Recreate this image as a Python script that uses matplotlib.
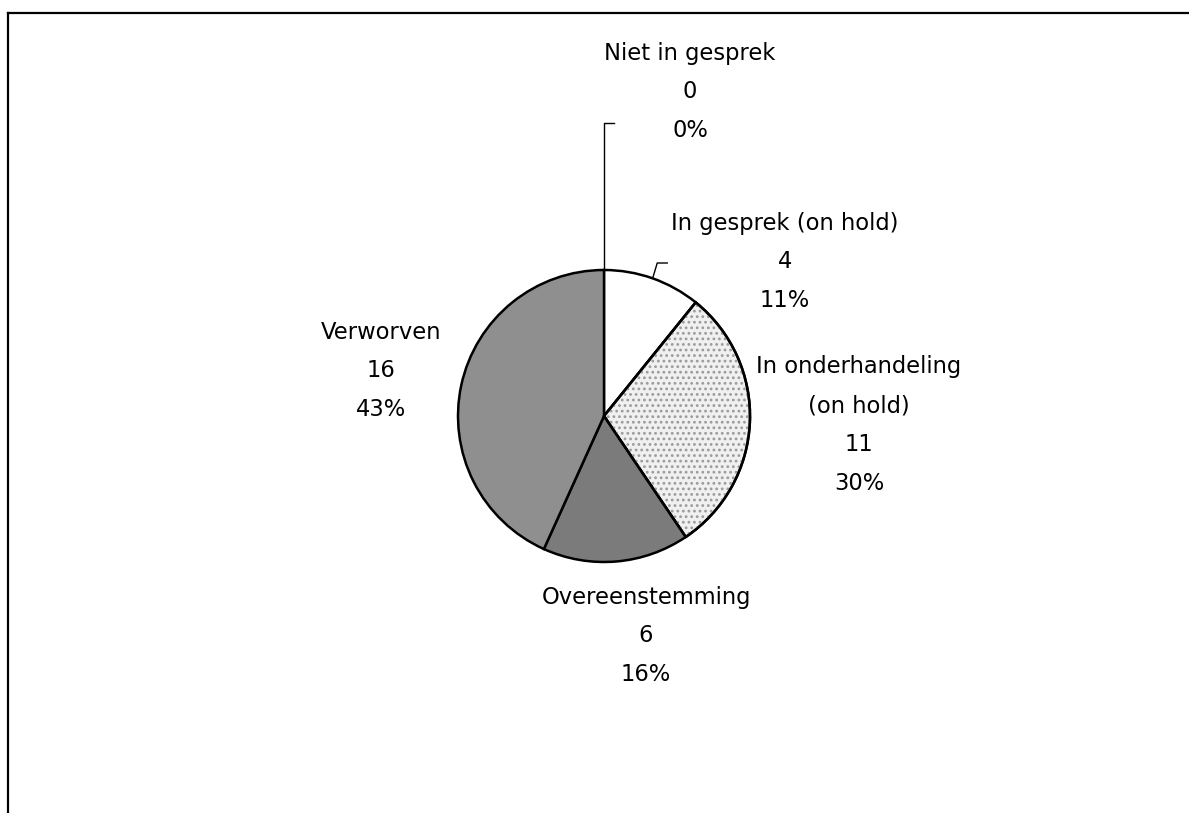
import numpy as np
import matplotlib
matplotlib.use("Agg")
import matplotlib.pyplot as plt
from matplotlib.patches import Wedge

# Gegevens
categorieen = ["Niet in gesprek", "In gesprek (on hold)", "In onderhandeling\n(on hold)",
               "Overeenstemming", "Verworven"]
aantallen = [0, 4, 11, 6, 16]

# Opmaak
kleuren = ["white", "white", "#f0f0f0", "#7b7b7b", "#8f8f8f"]
arceringen = [None, None, "...", None, None]
# label middelpunten in pixels (x, y vanaf boven)
label_pos = [(690, 92), (785, 262), (859, 425), (646, 636), (381, 371)]
# labels met verbindingslijn: index -> knikpunt (y in pixels)
leiders = {0: 123, 1: 263}

W, H = 1189, 813
plt.rcParams["hatch.linewidth"] = 1.2
fig = plt.figure(figsize=(W / 100, H / 100), dpi=100)
ax = fig.add_axes([0, 0, 1, 1])

centrum = (604, H - 416)
straal = 146

wedges, _ = ax.pie(aantallen, colors=kleuren, startangle=90, counterclock=False,
                   center=centrum, radius=straal,
                   wedgeprops=dict(edgecolor="black", linewidth=1.8))
for w, h in zip(wedges, arceringen):
    if h:
        # stippels als aparte laag
        ax.add_patch(Wedge(w.center, w.r, w.theta1, w.theta2, facecolor="none",
                           edgecolor="#9a9a9a", hatch=h, linewidth=0))
        ax.add_patch(Wedge(w.center, w.r, w.theta1, w.theta2,
                           facecolor="none", edgecolor="black", linewidth=1.8))

ax.set_xlim(0, W)
ax.set_ylim(0, H)
ax.set_aspect("equal")
ax.axis("off")

totaal = sum(aantallen)
for i, (naam, n) in enumerate(zip(categorieen, aantallen)):
    pct = round(100 * n / totaal)
    x, y = label_pos[i]
    ax.text(x, H - y, f"{naam}\n{n}\n{pct}%", ha="center", va="center",
            fontsize=16.3, family="DejaVu Sans", linespacing=1.88, color="black")
    if i in leiders:
        w = wedges[i]
        hoek = np.deg2rad((w.theta1 + w.theta2) / 2)
        px = centrum[0] + straal * np.cos(hoek)
        py = centrum[1] + straal * np.sin(hoek)
        ky = H - leiders[i]
        dx = (ky - py) * 0.3 if i > 0 else 0
        ax.plot([px, px + dx, px + dx + 10], [py, ky, ky], color="black", linewidth=1.0)

# rand van de gescande grafiek (alleen boven en links zichtbaar)
ax.plot([8, W], [H - 13, H - 13], color="black", linewidth=1.6)
ax.plot([8, 8], [H - 13, 0], color="black", linewidth=1.6)

fig.savefig("out.png", dpi=100)
